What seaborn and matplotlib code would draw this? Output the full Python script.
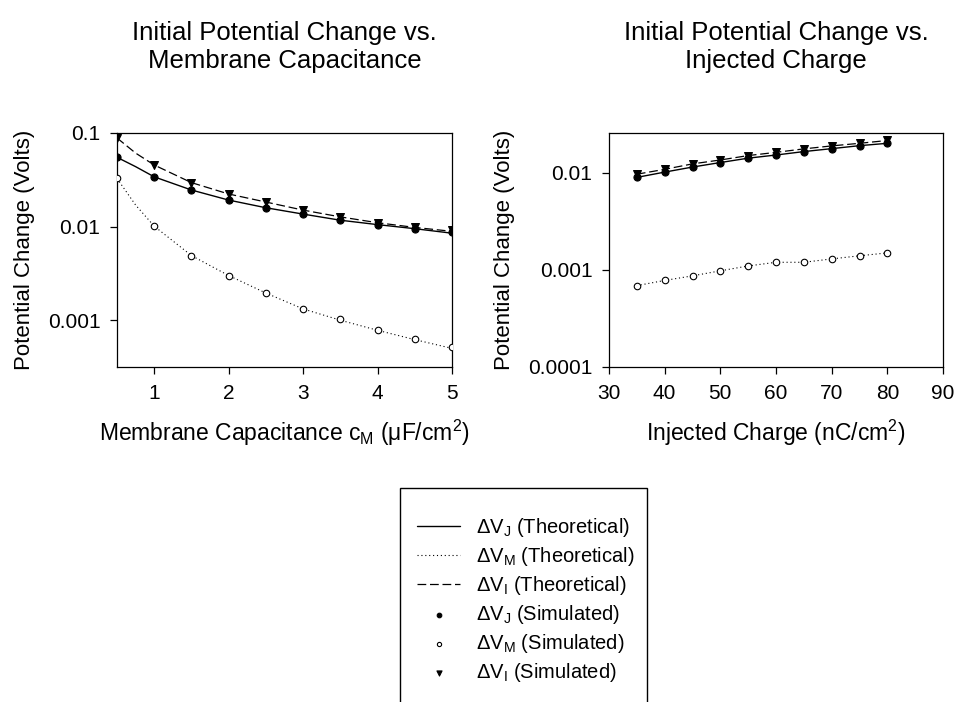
from matplotlib import pyplot as plt
from matplotlib.patches import Rectangle
import numpy as np
import pandas as pd
import seaborn as sns

# left panel: potential change vs membrane capacitance
cm_sim = [0.5, 1.0, 1.5, 2.0, 2.5, 3.0, 3.5, 4.0, 4.5, 5.0]
vj_cm_sim = [0.055, 0.034, 0.0246, 0.0192, 0.0159, 0.0136, 0.0117, 0.0105, 0.0095, 0.0087]
vm_cm_sim = [0.0327, 0.0101, 0.0049, 0.0030, 0.00195, 0.00132, 0.00102, 0.00079, 0.00063, 0.00052]
vi_cm_sim = [0.0885, 0.0455, 0.0295, 0.0223, 0.0183, 0.0150, 0.0127, 0.0110, 0.0098, 0.0092]

cm_theo = [0.5, 0.75, 1.0, 1.5, 2.0, 2.5, 3.0, 3.5, 4.0, 4.5, 5.0]
vj_cm_theo = [0.055, 0.0437, 0.034, 0.0246, 0.0192, 0.0159, 0.0136, 0.0117, 0.0105, 0.0095, 0.0085]
vm_cm_theo = [0.0327, 0.017, 0.0101, 0.0049, 0.0030, 0.00195, 0.00132, 0.00100, 0.00078, 0.00062, 0.00050]
vi_cm_theo = [0.0885, 0.061, 0.0455, 0.0295, 0.0223, 0.0183, 0.0150, 0.0127, 0.0110, 0.0098, 0.0089]

# right panel: potential change vs injected charge
q = [35, 40, 45, 50, 55, 60, 65, 70, 75, 80]
vj_q = [0.0090, 0.0102, 0.0115, 0.0128, 0.0142, 0.0153, 0.0166, 0.0178, 0.0191, 0.0202]
vm_q = [0.00069, 0.00078, 0.00087, 0.00098, 0.0011, 0.0012, 0.0012, 0.0013, 0.0014, 0.0015]
vi_q = [0.0097, 0.0109, 0.0124, 0.0136, 0.0151, 0.0163, 0.0177, 0.0190, 0.0202, 0.0216]

labels_theo = [r'Δ$\mathrm{V}_\mathrm{J}$ (Theoretical)',
               r'Δ$\mathrm{V}_\mathrm{M}$ (Theoretical)',
               r'Δ$\mathrm{V}_\mathrm{I}$ (Theoretical)']
labels_sim = [r'Δ$\mathrm{V}_\mathrm{J}$ (Simulated)',
              r'Δ$\mathrm{V}_\mathrm{M}$ (Simulated)',
              r'Δ$\mathrm{V}_\mathrm{I}$ (Simulated)']

sns.set_theme(style='white')
plt.rcParams['font.family'] = ['Liberation Sans', 'DejaVu Sans']
plt.rcParams['mathtext.fontset'] = 'custom'
plt.rcParams['mathtext.rm'] = 'Liberation Sans'
plt.rcParams['mathtext.it'] = 'Liberation Sans:italic'
plt.rcParams['mathtext.bf'] = 'Liberation Sans:bold'
for key in ['text.color', 'axes.labelcolor', 'xtick.color', 'ytick.color',
            'axes.edgecolor']:
    plt.rcParams[key] = 'black'

line_styles = ['-', (0, (1, 2.5)), (0, (7, 3))]
line_widths = [1.0, 0.8, 0.9]


def draw_panel(ax, x_theo, theo, x_sim, sim):
    for y, ls, lw, lab in zip(theo, line_styles, line_widths, labels_theo):
        sns.lineplot(x=x_theo, y=y, ax=ax, color='black', linestyle=ls,
                     linewidth=lw, label=lab, legend=False, zorder=2)
    faces = ['black', 'white', 'black']
    markers = ['o', 'o', 'v']
    sizes = [26, 22, 32]
    for y, fc, m, s, lab in zip(sim, faces, markers, sizes, labels_sim):
        sns.scatterplot(x=x_sim, y=y, ax=ax, color=fc, edgecolor='black',
                        linewidth=0.8, marker=m, s=s, label=lab,
                        legend=False, zorder=3)
    ax.set_yscale('log')
    for sp in ax.spines.values():
        sp.set_visible(True)
        sp.set_color('black')
        sp.set_linewidth(0.9)
    ax.tick_params(axis='both', which='major', direction='out', length=5,
                   width=0.9, color='black', labelcolor='black',
                   labelsize=15, pad=7, bottom=True, left=True)
    ax.tick_params(axis='both', which='minor', length=0)
    ax.grid(False)


fig = plt.figure(figsize=(9.55, 7.02), dpi=100)
ax1 = fig.add_axes([117 / 955, 1 - 367 / 702, 335 / 955, 234 / 702])
ax2 = fig.add_axes([609 / 955, 1 - 367 / 702, 334 / 955, 234 / 702])

draw_panel(ax1, cm_theo, [vj_cm_theo, vm_cm_theo, vi_cm_theo],
           cm_sim, [vj_cm_sim, vm_cm_sim, vi_cm_sim])
draw_panel(ax2, q, [vj_q, vm_q, vi_q], q, [vj_q, vm_q, vi_q])

ax1.set_xlim(0.5, 5)
ax1.set_ylim(10 ** -3.5, 0.1)
ax1.set_xticks([1, 2, 3, 4, 5])
ax1.set_yticks([0.001, 0.01, 0.1])
ax1.set_yticklabels(['0.001', '0.01', '0.1'])

ax2.set_xlim(30, 90)
ax2.set_ylim(0.0001, 0.0258)
ax2.set_xticks([30, 40, 50, 60, 70, 80, 90])
ax2.set_yticks([0.0001, 0.001, 0.01])
ax2.set_yticklabels(['0.0001', '0.001', '0.01'])

ax1.set_xlabel(r'Membrane Capacitance c$_\mathrm{M}$ (μF/cm$^\mathrm{2}$)',
               fontsize=16.5, labelpad=11, color='black')
ax2.set_xlabel(r'Injected Charge (nC/cm$^\mathrm{2}$)', fontsize=16.5,
               labelpad=11, color='black')
for ax in (ax1, ax2):
    ax.set_ylabel('Potential Change (Volts)', fontsize=16, labelpad=9,
                  color='black')

ax1.set_title('Initial Potential Change vs.\nMembrane Capacitance',
              fontsize=18.5, pad=47, linespacing=1.2, color='black')
ax2.set_title('Initial Potential Change vs.\nInjected Charge',
              fontsize=18.5, pad=47, linespacing=1.2, color='black')

handles, labels = ax1.get_legend_handles_labels()
fig.add_artist(Rectangle((400 / 955, -0.02), 247 / 955, 1 - 488 / 702 + 0.02,
                         transform=fig.transFigure, fill=False,
                         edgecolor='black', linewidth=1.0))
leg = fig.legend(handles, labels, loc='upper left',
                 bbox_to_anchor=(399 / 955, 1 - 498 / 702), frameon=False,
                 fontsize=14.5, handlelength=2.15, handletextpad=0.75,
                 labelspacing=0.3, markerscale=0.65)
for t in leg.get_texts():
    t.set_color('black')

fig.savefig('out.png', dpi=100)
